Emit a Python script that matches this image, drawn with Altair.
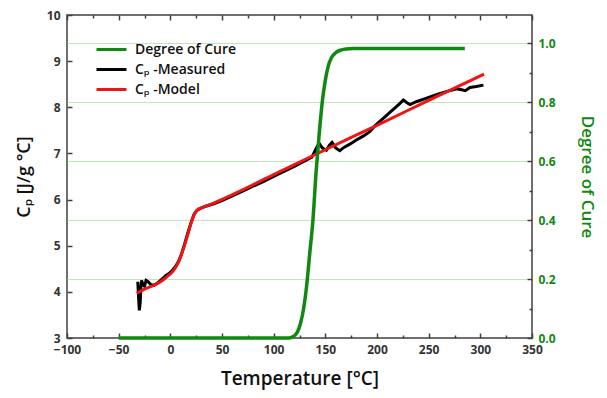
import altair as alt
import pandas as pd

GREEN = "#118811"
RED = "#f01414"
BLACK = "#000000"
GRID = "#c4e4be"
FRAME = "#404040"

series_names = ["Degree of Cure", "Cₚ -Measured", "Cₚ -Model"]

# Measured heat capacity (black)
meas_T = [-31.5, -30.8, -30.0, -29.2, -28.5, -27.8, -26.5, -25.0, -23.5, -21.5,
          -19, -16, -13, -10, -7, -4, -1, 2, 5, 8, 11, 14, 17, 20, 23, 26, 30,
          35, 42, 50, 60, 70, 80, 90, 100, 110, 120, 130, 137, 141, 144, 147,
          151, 154, 156.5, 160, 164, 168, 172, 176, 180, 187, 193, 198, 203,
          208, 213, 218, 222, 225.5, 229, 232, 238, 248, 258, 267, 277, 282,
          285.5, 290, 296, 303]
meas_cp = [4.22, 3.9, 3.6, 3.75, 4.1, 4.25, 4.15, 4.12, 4.25, 4.22,
           4.16, 4.14, 4.18, 4.24, 4.3, 4.36, 4.4, 4.47, 4.55, 4.66, 4.83, 5.05,
           5.28, 5.5, 5.68, 5.77, 5.82, 5.86, 5.91, 5.98, 6.08, 6.18, 6.29, 6.39,
           6.5, 6.61, 6.72, 6.84, 6.92, 7.1, 7.22, 7.12, 7.07, 7.18, 7.24, 7.12,
           7.06, 7.13, 7.18, 7.23, 7.29, 7.38, 7.47, 7.6, 7.7, 7.8, 7.9, 8.0,
           8.08, 8.16, 8.1, 8.06, 8.12, 8.2, 8.28, 8.34, 8.4, 8.38, 8.36, 8.43,
           8.45, 8.48]

# Model heat capacity (red)
model_T = [-32.6, -25, -15, -8, -2, 3, 6.2, 9.5, 12.6, 15, 17.4, 20.7, 23.9,
           27, 30.3, 36, 42.6, 100, 150, 200, 250, 303.6]
model_cp = [3.97, 4.06, 4.15, 4.24, 4.35, 4.46, 4.57, 4.73, 4.93, 5.1, 5.28,
            5.53, 5.71, 5.79, 5.82, 5.87, 5.93, 6.54, 7.08, 7.61, 8.15, 8.72]

# Degree of cure (green)
cure_T = [-50, 100, 115, 119, 123, 126, 129, 132, 135, 138, 141, 144, 147,
          150, 153, 156, 160, 165, 170, 177, 285]
cure_v = [0, 0, 0, 0.005, 0.02, 0.05, 0.1, 0.18, 0.29, 0.40, 0.56, 0.69, 0.8,
          0.875, 0.925, 0.952, 0.968, 0.977, 0.981, 0.982, 0.982]

x_ticks = list(range(-100, 351, 25))
cp_ticks = [3 + 0.5 * i for i in range(15)]
cure_ticks = [round(0.1 * i, 1) for i in range(11)]

df_meas = pd.DataFrame({"T": meas_T, "val": meas_cp, "series": series_names[1]})
df_model = pd.DataFrame({"T": model_T, "val": model_cp, "series": series_names[2]})
df_cure = pd.DataFrame({"T": cure_T, "val": cure_v, "series": series_names[0]})


def minor(test):
    return dict(
        tickDash={"condition": {"test": test, "value": [3, 2]}, "value": [6, 0]},
        tickDashOffset={"condition": {"test": test, "value": 3}, "value": 0},
    )


tick_common = dict(offset=-5, tickSize=5, domain=False, tickColor=FRAME,
                   tickWidth=1.5, labelOverlap=False, labelFlush=False)

color = alt.Color(
    "series:N",
    scale=alt.Scale(domain=series_names, range=[GREEN, BLACK, RED]),
    legend=alt.Legend(
        title=None, orient="none", legendX=33, legendY=23, padding=0,
        symbolType="M-1.5,0H1.5", symbolSize=400, symbolStrokeWidth=3,
        labelFont="Open Sans", labelFontWeight=600, labelFontSize=14,
        labelColor="#111", labelOffset=12, rowPadding=1,
    ),
)

x_scale = alt.Scale(domain=[-100, 350], nice=False, zero=False)
cp_scale = alt.Scale(domain=[3, 10], nice=False, zero=False)
cure_scale = alt.Scale(domain=[0, 1.096], nice=False, zero=False)

x_bottom = alt.X(
    "T:Q", scale=x_scale,
    axis=alt.Axis(values=x_ticks, format="d",
                  labelExpr="datum.value % 50 === 0 ? datum.label : ''",
                  title="Temperature [°C]", labelPadding=6, titlePadding=14,
                  titleFontSize=19,
                  grid=False, **tick_common, **minor("datum.value % 50 !== 0")),
)
y_left = alt.Y(
    "val:Q", scale=cp_scale,
    axis=alt.Axis(values=cp_ticks, format="d",
                  labelExpr="datum.value % 1 === 0 ? datum.label : ''",
                  title="Cₚ [J/g °C]", labelPadding=7, titlePadding=13,
                  titleFontSize=18,
                  grid=False, **tick_common, **minor("datum.value % 1 !== 0")),
)

meas = alt.Chart(df_meas).mark_line(strokeWidth=3, interpolate="linear").encode(
    x=x_bottom, y=y_left, color=color)
model = alt.Chart(df_model).mark_line(strokeWidth=3, interpolate="monotone").encode(
    x=x_bottom, y=y_left, color=color)

left_group = alt.layer(meas, model)

cure_line = alt.Chart(df_cure).mark_line(strokeWidth=3.5, interpolate="monotone").encode(
    x=alt.X("T:Q", scale=x_scale,
            axis=alt.Axis(orient="top", values=x_ticks, labels=False, title=None,
                          grid=False, **tick_common,
                          **minor("datum.value % 50 !== 0"))),
    y=alt.Y("val:Q", scale=cure_scale,
            axis=alt.Axis(orient="right", values=cure_ticks, format=".1f",
                          labelExpr="round(datum.value * 10) % 2 === 0 ? datum.label : ''",
                          labelColor=GREEN, title="Degree of Cure", titleColor=GREEN,
                          titleFontSize=17,
                          labelPadding=6, titlePadding=22,
                          grid=True, gridColor=GRID, gridWidth=1,
                          gridOpacity={"condition": {"test": "round(datum.value * 10) % 2 === 0 && datum.value > 0.05", "value": 1}, "value": 0},
                          **tick_common, **minor("round(datum.value * 10) % 2 !== 0"))),
    color=color,
)

chart = alt.layer(left_group, cure_line).resolve_scale(
    x="independent", y="independent"
).properties(
    width=465, height=323,
    autosize=alt.AutoSizeParams(type="none"),
    padding={"left": 59, "top": 7, "right": 67, "bottom": 52},
).configure_view(
    stroke=FRAME, strokeWidth=1.5
).configure_axis(
    labelFont="Open Sans", labelFontWeight="bold", labelFontSize=12,
    labelColor="#333333", titleFont="Open Sans", titleFontWeight=600,
    titleFontSize=20, titleColor="#111111",
)

chart.save("out.html", embed_options={"renderer": "svg", "actions": False})
